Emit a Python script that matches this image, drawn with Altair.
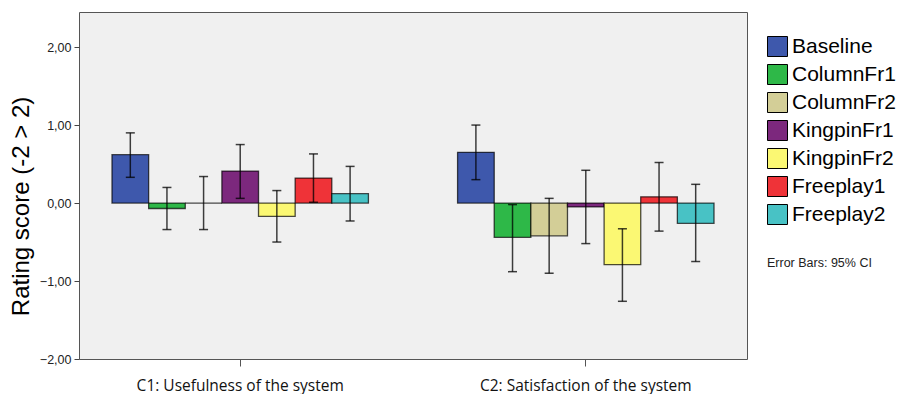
import altair as alt
import pandas as pd

groups = ["C1: Usefulness of the system", "C2: Satisfaction of the system"]
series = ["Baseline", "ColumnFr1", "ColumnFr2", "KingpinFr1", "KingpinFr2", "Freeplay1", "Freeplay2"]
colors = ["#3E58AC", "#2EB848", "#D3CE97", "#7C287D", "#FBF873", "#EF3338", "#48C2C5"]

means_c1 = [0.62, -0.07, 0.00, 0.41, -0.17, 0.32, 0.12]
lo_c1 = [0.33, -0.34, -0.34, 0.06, -0.50, 0.01, -0.23]
hi_c1 = [0.90, 0.20, 0.34, 0.75, 0.16, 0.63, 0.47]

means_c2 = [0.65, -0.44, -0.42, -0.05, -0.79, 0.08, -0.26]
lo_c2 = [0.30, -0.88, -0.90, -0.52, -1.26, -0.36, -0.75]
hi_c2 = [1.00, -0.02, 0.06, 0.42, -0.33, 0.52, 0.24]

y_ticks = [-2, -1, 0, 1, 2]

rows = []
for g, m, lo, hi in [(groups[0], means_c1, lo_c1, hi_c1), (groups[1], means_c2, lo_c2, hi_c2)]:
    for s, mv, l, h in zip(series, m, lo, hi):
        rows.append(dict(group=g, series=s, mean=mv, lo=l, hi=h))
df = pd.DataFrame(rows)

FONT = "Liberation Sans"

x = alt.X(
    "group:N", sort=groups,
    scale=alt.Scale(range=[33, 635], paddingInner=0.258, paddingOuter=0),
    axis=alt.Axis(title=None, labelAngle=0, labelFont="Open Sans", labelFontSize=15.5,
                  labelColor="#111", tickColor="#555", tickSize=7, domain=False,
                  labelPadding=12, labelLimit=400),
)
xo = alt.XOffset("series:N", sort=series, scale=alt.Scale(paddingInner=0, paddingOuter=0))
yscale = alt.Scale(domain=[-2, 2.45], nice=False, zero=False)

base = alt.Chart(df)

bars = base.mark_bar(stroke="black", strokeOpacity=0.7, strokeWidth=1.3, opacity=1).encode(
    x=x,
    xOffset=xo,
    y=alt.Y("mean:Q", scale=yscale,
            axis=alt.Axis(values=y_ticks, grid=False, domain=False,
                          labelExpr="replace(format(datum.value, '.2f'), '.', ',')",
                          title="Rating score (-2 > 2)", titleFont=FONT, titleFontSize=24,
                          titleFontWeight="normal", titleColor="black", titlePadding=6,
                          titleY=194,
                          labelFont=FONT, labelFontSize=12.5, labelColor="#222",
                          tickColor="#444", tickSize=5, labelPadding=3)),
    y2=alt.Y2(datum=0),
    color=alt.Color("series:N", sort=series, scale=alt.Scale(domain=series, range=colors),
                    legend=alt.Legend(title="Error Bars: 95% CI", titleOrient="bottom",
                                      titleAnchor="start", orient="none", legendX=688, legendY=24,
                                      symbolType="square", symbolSize=400,
                                      symbolStrokeColor="black", symbolStrokeWidth=1,
                                      symbolOpacity=1, labelFont=FONT, labelFontSize=21,
                                      labelColor="black", rowPadding=3, labelOffset=4,
                                      titleFont=FONT, titleFontSize=12.5, titleFontWeight="normal",
                                      titleColor="#222", titlePadding=30)),
)

rules = base.mark_rule(color="black", strokeWidth=1.5, opacity=0.75).encode(
    x=x, xOffset=xo, y=alt.Y("lo:Q", scale=yscale), y2="hi:Q",
)

caps = base.transform_fold(["lo", "hi"], as_=["k", "v"]).mark_tick(
    color="black", thickness=1.5, size=9, opacity=0.75
).encode(
    x=x, xOffset=xo, y=alt.Y("v:Q", scale=yscale),
)

chart = alt.layer(bars, rules, caps).properties(
    width=668, height=347,
    autosize=alt.AutoSizeParams(type="none"),
    padding={"left": 79, "top": 12, "right": 154, "bottom": 35},
    background="white",
).configure_view(fill="#F0F0F0", stroke="#555", strokeWidth=1)

chart.save("out.html", embed_options={"renderer": "svg", "actions": False})
